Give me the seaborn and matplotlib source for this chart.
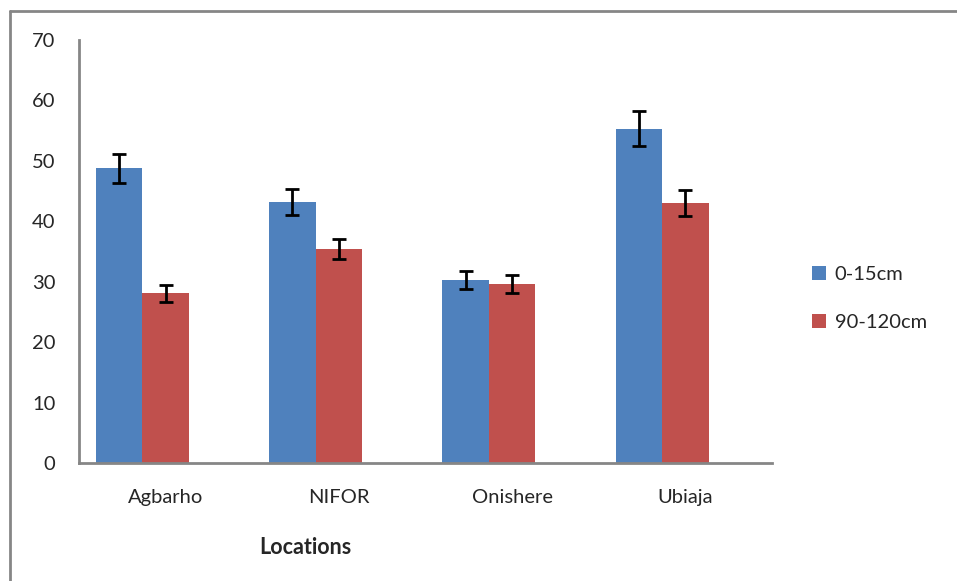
import numpy as np
import pandas as pd
import matplotlib
matplotlib.use("Agg")
import matplotlib.pyplot as plt
from matplotlib.lines import Line2D
import seaborn as sns

# ==========================
# DATA
# ==========================

locations = ["Agbarho", "NIFOR", "Onishere", "Ubiaja"]
depths = ["0-15cm", "90-120cm"]

top_mean = [48.8, 43.2, 30.3, 55.3]
top_err = [2.4, 2.2, 1.55, 2.9]

sub_mean = [28.1, 35.4, 29.6, 43.0]
sub_err = [1.4, 1.7, 1.55, 2.15]

y_ticks = [0, 10, 20, 30, 40, 50, 60, 70]

df = pd.DataFrame({
    "Location": locations * 2,
    "Depth": [depths[0]] * 4 + [depths[1]] * 4,
    "Value": top_mean + sub_mean,
    "Err": top_err + sub_err,
})

# ==========================
# PLOT
# ==========================

sns.set_style("white")
plt.rcParams["font.family"] = ["Lato", "DejaVu Sans"]

fs = 14.5

fig = plt.figure(figsize=(9.57, 5.81), dpi=100)
ax = fig.add_axes([0.0826, 0.2031, 0.7241, 0.7281])

palette = {"0-15cm": "#4F81BD", "90-120cm": "#C0504D"}

sns.barplot(
    data=df,
    x="Location",
    y="Value",
    hue="Depth",
    order=locations,
    hue_order=depths,
    palette=palette,
    width=0.537,
    saturation=1,
    errorbar=None,
    linewidth=0,
    ax=ax,
)

# error bars on the bar centres
for container, depth in zip(ax.containers, depths):
    sub = df[df["Depth"] == depth].set_index("Location").loc[locations]
    xs = [p.get_x() + p.get_width() / 2 for p in container.patches]
    ax.errorbar(
        xs,
        sub["Value"].values,
        yerr=sub["Err"].values,
        fmt="none",
        ecolor="black",
        elinewidth=2,
        capsize=5,
        capthick=2,
    )

# categories are centred as if a third empty series sat on the right
shift = 0.537 / 4
ax.set_xticks(np.arange(len(locations)) + shift)
ax.set_xticklabels(locations)
ax.set_xlim(-0.5 + shift, len(locations) - 0.5 + shift)

ax.set_ylim(0, 70)
ax.set_yticks(y_ticks)

ax.set_xlabel("")
ax.set_ylabel("")

for side in ["top", "right"]:
    ax.spines[side].set_visible(False)
for side in ["left", "bottom"]:
    ax.spines[side].set_color("#868686")
    ax.spines[side].set_linewidth(2)

ax.tick_params(axis="y", length=0, pad=17, labelsize=fs)
ax.tick_params(axis="x", length=0, pad=19, labelsize=fs)

fig.text(
    0.319, 0.058, "Locations",
    ha="center", va="center",
    fontsize=15.5, fontweight="bold",
)

handles, labels = ax.get_legend_handles_labels()
ax.legend_.remove()
fig.legend(
    handles,
    labels,
    loc="center left",
    bbox_to_anchor=(0.849, 0.486),
    frameon=False,
    fontsize=fs,
    handlelength=0.65,
    handleheight=0.65,
    handletextpad=0.45,
    labelspacing=1.55,
    borderpad=0,
    borderaxespad=0,
)

# chart area border
fig.add_artist(Line2D([0.0105, 0.0105], [0.0, 0.981], color="#868686", lw=2))
fig.add_artist(Line2D([0.0105, 1.0], [0.981, 0.981], color="#868686", lw=2))

plt.savefig("out.png", dpi=100)
